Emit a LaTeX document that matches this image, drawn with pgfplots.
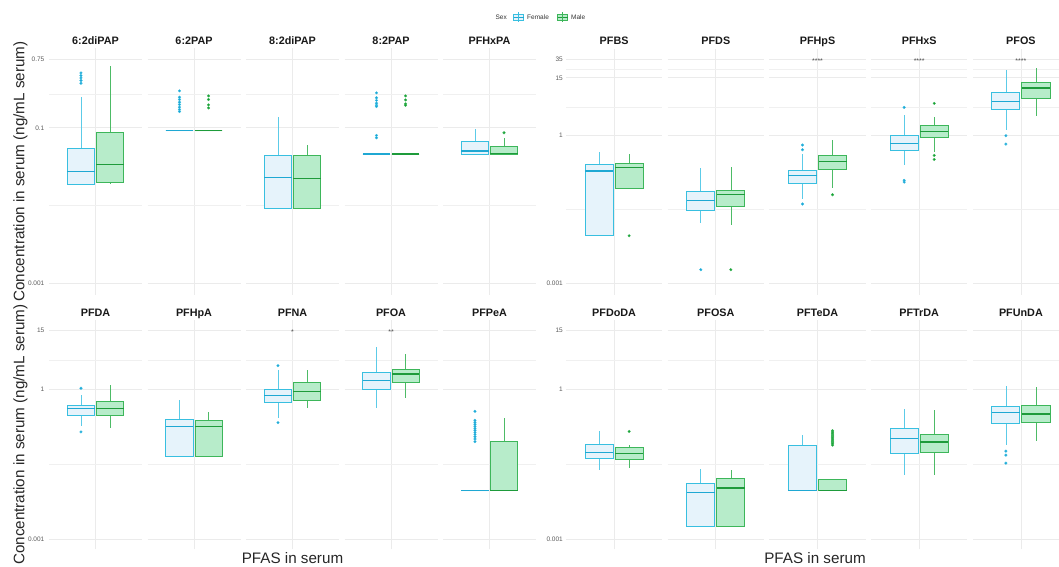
\documentclass[border=0pt]{standalone}
\usepackage{fontspec}
\setmainfont{Liberation Sans}
\usepackage{pgfplots}
\pgfplotsset{compat=1.18}
\usepgfplotslibrary{statistics}

\definecolor{fcol}{HTML}{38BFE0}
\definecolor{fcolw}{HTML}{5CCBE8}
\definecolor{ffill}{HTML}{E6F3FB}
\definecolor{fmed}{HTML}{1FA8D3}
\definecolor{fout}{HTML}{1C9ED6}
\definecolor{mcol}{HTML}{3DB65A}
\definecolor{mcolw}{HTML}{4DBB66}
\definecolor{mfill}{HTML}{B7ECCA}
\definecolor{mmed}{HTML}{1E9B3B}
\definecolor{mout}{HTML}{119B2C}
\definecolor{gridc}{HTML}{EBEBEB}
\definecolor{ticklab}{HTML}{5A5A5A}

\pgfplotsset{
  fstyle/.style={draw=fcol, mark=*, mark size=1.3pt, mark options={draw=none, fill=fout, solid},
    boxplot/draw direction=y,
    boxplot/every box/.style={draw=fcol, fill=ffill, line width=0.9pt},
    boxplot/every median/.style={draw=fmed, line width=1.3pt},
    boxplot/every whisker/.style={draw=fcolw, line width=0.65pt}},
  mstyle/.style={draw=mcol, mark=*, mark size=1.3pt, mark options={draw=none, fill=mout, solid},
    boxplot/draw direction=y,
    boxplot/every box/.style={draw=mcol, fill=mfill, line width=0.9pt},
    boxplot/every median/.style={draw=mmed, line width=1.3pt},
    boxplot/every whisker/.style={draw=mcolw, line width=0.65pt}},
  facet/.style={scale only axis, anchor=south west, xmin=0.4, xmax=1.6,
    axis line style={draw=none}, major tick length=0pt, minor tick length=0pt,
    xtick={1}, xticklabels={}, grid=both,
    major grid style={draw=gridc, line width=0.7pt},
    minor grid style={draw=gridc!75!white, line width=0.45pt},
    title style={font=\bfseries\fontsize{10.8}{12}\selectfont, text=black!90, at={(0.5,1)}, anchor=base, yshift=-2.2pt, inner sep=0pt},
    yticklabel style={font=\fontsize{6.5}{7}\selectfont, text=ticklab, inner sep=0pt, xshift=-4.5pt},
    yticklabels={}, clip=false},
  rowtl/.style={facet, width=93pt, height=246.1pt, ymin=-3.1438, ymax=0.0189,
    ytick={-3,-1,-0.12494}, minor ytick={-2,-0.56247}},
  rowtr/.style={facet, width=96.2pt, height=246.1pt, ymin=-3.2272, ymax=1.7713,
    ytick={-3,0,1.17609,1.54407}, minor ytick={-1.5,0.58805,1.36008}},
  rowbl/.style={facet, width=93pt, height=229.2pt, ymin=-3.2088, ymax=1.3849,
    ytick={-3,0,1.17609}, minor ytick={-1.5,0.58805}},
  rowbr/.style={facet, width=96.2pt, height=229.2pt, ymin=-3.2088, ymax=1.3849,
    ytick={-3,0,1.17609}, minor ytick={-1.5,0.58805}},
}
\tikzset{sigstar/.style={font=\fontsize{7}{8}\selectfont, text=black!70, yshift=-1.5pt}}

% box on a log10 scale: values are given as plain concentrations (ng/mL)
\newcommand{\BX}[8]{%
  \pgfmathsetmacro\vA{log10(#3)}\pgfmathsetmacro\vB{log10(#4)}%
  \pgfmathsetmacro\vC{log10(#5)}\pgfmathsetmacro\vD{log10(#6)}%
  \pgfmathsetmacro\vE{log10(#7)}%
  \edef\doplot{\noexpand\addplot[#1, boxplot prepared={lower whisker=\vA, lower quartile=\vB, median=\vC, upper quartile=\vD, upper whisker=\vE, draw position=#2, box extend=0.35, whisker extend=0, draw direction=y}]}%
  \ifx\relax#8\relax
    \doplot coordinates {};%
  \else
    \doplot table[row sep=\\, y expr={log10(\thisrowno{0})}]{y\\#8};%
  \fi}
\newcommand{\BF}[6]{\BX{fstyle}{0.8125}{#1}{#2}{#3}{#4}{#5}{#6}}
\newcommand{\BM}[6]{\BX{mstyle}{1.1875}{#1}{#2}{#3}{#4}{#5}{#6}}

\begin{document}
\begin{tikzpicture}
\path[use as bounding box] (0,0) rectangle (1059pt,566pt);

% ---------- Top-left ----------
\begin{axis}[rowtl, at={(49pt,271.4pt)}, title={6:2diPAP}, yticklabels={0.001,0.1,0.75}]
\BF{0.0182}{0.0182}{0.0275}{0.0538}{0.249}{0.507\\0.469\\0.437\\0.405\\0.374\\}
\BM{0.0186}{0.0197}{0.0332}{0.088}{0.624}{}
\end{axis}
\begin{axis}[rowtl, at={(147.5pt,271.4pt)}, title={6:2PAP}]
\BF{0.0916}{0.0916}{0.0916}{0.0916}{0.0916}{0.298\\0.247\\0.231\\0.213\\0.199\\0.184\\0.172\\0.162\\}
\BM{0.0916}{0.0916}{0.0916}{0.0916}{0.0916}{0.257\\0.231\\0.197\\0.180\\}
\end{axis}
\begin{axis}[rowtl, at={(246pt,271.4pt)}, title={8:2diPAP}]
\BF{0.00917}{0.00917}{0.0229}{0.0438}{0.1355}{}
\BM{0.00917}{0.00917}{0.0222}{0.0442}{0.0605}{}
\end{axis}
\begin{axis}[rowtl, at={(344.5pt,271.4pt)}, title={8:2PAP}]
\BF{0.0459}{0.0459}{0.0459}{0.0459}{0.0459}{0.281\\0.243\\0.225\\0.207\\0.195\\0.188\\0.0798\\0.0744\\}
\BM{0.0459}{0.0459}{0.0459}{0.0459}{0.0459}{0.257\\0.228\\0.203\\0.195\\}
\end{axis}
\begin{axis}[rowtl, at={(443pt,271.4pt)}, title={PFHxPA}]
\BF{0.0455}{0.0455}{0.0502}{0.0662}{0.0962}{}
\BM{0.0459}{0.0459}{0.0462}{0.057}{0.0723}{0.0863\\}
\end{axis}

% ---------- Top-right ----------
\begin{axis}[rowtr, at={(566pt,271.4pt)}, title={PFBS}, yticklabels={0.001,1,15,35}, yticklabel style={xshift=1.5pt}]
\BF{0.00931}{0.00931}{0.191}{0.262}{0.466}{}
\BM{0.0826}{0.0826}{0.227}{0.27}{0.424}{0.0093\\}
\end{axis}
\begin{axis}[rowtr, at={(667.7pt,271.4pt)}, title={PFDS}]
\BF{0.0163}{0.030}{0.0479}{0.074}{0.217}{0.0019\\}
\BM{0.0156}{0.0367}{0.0634}{0.0776}{0.227}{0.0019\\}
\end{axis}
\begin{axis}[rowtr, at={(769.4pt,271.4pt)}, title={PFHpS}]
\BF{0.0517}{0.1076}{0.154}{0.198}{0.418}{0.646\\0.52\\0.041\\}
\BM{0.0865}{0.204}{0.301}{0.392}{0.83}{0.0633\\}
\node[sigstar] at (axis cs:1,1.54407) {****};
\end{axis}
\begin{axis}[rowtr, at={(871.1pt,271.4pt)}, title={PFHxS}]
\BF{0.25}{0.504}{0.688}{1.0}{2.67}{3.76\\0.124\\0.1145\\}
\BM{0.473}{0.925}{1.21}{1.62}{2.39}{4.54\\0.398\\0.33\\}
\node[sigstar] at (axis cs:1,1.54407) {****};
\end{axis}
\begin{axis}[rowtr, at={(972.8pt,271.4pt)}, title={PFOS}]
\BF{1.32}{3.48}{4.9}{7.59}{21.9}{1.0\\0.677\\}
\BM{2.47}{5.73}{9.29}{12.1}{24.0}{}
\node[sigstar] at (axis cs:1,1.54407) {****};
\end{axis}

% ---------- Bottom-left ----------
\begin{axis}[rowbl, at={(49pt,16.6pt)}, title={PFDA}, yticklabels={0.001,1,15}]
\BF{0.184}{0.301}{0.416}{0.478}{0.77}{1.05\\0.14\\}
\BM{0.163}{0.301}{0.416}{0.566}{1.2}{}
\end{axis}
\begin{axis}[rowbl, at={(147.5pt,16.6pt)}, title={PFHpA}]
\BF{0.0448}{0.0448}{0.181}{0.25}{0.611}{}
\BM{0.0448}{0.0448}{0.179}{0.239}{0.351}{}
\end{axis}
\begin{axis}[rowbl, at={(246pt,16.6pt)}, title={PFNA}]
\BF{0.262}{0.541}{0.758}{1.0}{2.44}{2.98\\0.215\\}
\BM{0.429}{0.611}{0.898}{1.40}{2.44}{}
\node[sigstar] at (axis cs:1,1.17609) {*};
\end{axis}
\begin{axis}[rowbl, at={(344.5pt,16.6pt)}, title={PFOA}]
\BF{0.429}{1.0}{1.49}{2.19}{6.94}{}
\BM{0.67}{1.36}{2.03}{2.48}{5.03}{}
\node[sigstar] at (axis cs:1,1.17609) {**};
\end{axis}
\begin{axis}[rowbl, at={(443pt,16.6pt)}, title={PFPeA}]
\BF{0.00918}{0.00918}{0.00918}{0.00918}{0.00918}{0.362\\0.239\\0.218\\0.199\\0.181\\0.165\\0.151\\0.137\\0.125\\0.112\\0.101\\0.0893\\}
\BM{0.00918}{0.00918}{0.00918}{0.0908}{0.267}{}
\end{axis}

% ---------- Bottom-right ----------
\begin{axis}[rowbr, at={(566pt,16.6pt)}, title={PFDoDA}, yticklabels={0.001,1,15}, yticklabel style={xshift=1.5pt}]
\BF{0.0236}{0.0411}{0.0534}{0.076}{0.143}{}
\BM{0.0259}{0.0398}{0.0518}{0.0662}{0.076}{0.143\\}
\end{axis}
\begin{axis}[rowbr, at={(667.7pt,16.6pt)}, title={PFOSA}]
\BF{0.00177}{0.00177}{0.0084}{0.0131}{0.0255}{}
\BM{0.00177}{0.00177}{0.0104}{0.0163}{0.0239}{}
\end{axis}
\begin{axis}[rowbr, at={(769.4pt,16.6pt)}, title={PFTeDA}]
\BF{0.0092}{0.0092}{0.0092}{0.0727}{0.119}{}
\BM{0.0092}{0.0092}{0.0092}{0.0155}{0.0155}{0.148\\0.140\\0.133\\0.126\\0.119\\0.113\\0.107\\0.101\\0.096\\0.091\\0.0861\\0.081\\0.076\\}
\end{axis}
\begin{axis}[rowbr, at={(871.1pt,16.6pt)}, title={PFTrDA}]
\BF{0.0187}{0.0526}{0.102}{0.167}{0.403}{}
\BM{0.0187}{0.055}{0.0875}{0.123}{0.378}{}
\end{axis}
\begin{axis}[rowbr, at={(972.8pt,16.6pt)}, title={PFUnDA}]
\BF{0.075}{0.204}{0.34}{0.449}{1.17}{0.0577\\0.048\\0.0331\\}
\BM{0.0902}{0.214}{0.319}{0.47}{1.13}{}
\end{axis}

% ---------- Axis titles ----------
\node[rotate=90, anchor=base, font=\fontsize{15.2}{17}\selectfont, text=black!85] at (24.5pt,394.5pt) {Concentration in serum (ng/mL serum)};
\node[rotate=90, anchor=base, font=\fontsize{15.2}{17}\selectfont, text=black!85] at (24.5pt,131.3pt) {Concentration in serum (ng/mL serum)};
\node[anchor=base, font=\fontsize{15.2}{17}\selectfont, text=black!85] at (292.5pt,2.7pt) {PFAS in serum};
\node[anchor=base, font=\fontsize{15.2}{17}\selectfont, text=black!85] at (815pt,2.7pt) {PFAS in serum};

% ---------- Legend ----------
\node[anchor=east, font=\fontsize{6.5}{7}\selectfont, text=black!80, inner sep=0pt] at (507pt,549pt) {Sex};
\begin{scope}[shift={(518.5pt,549pt)}]
\draw[fcol, line width=0.6pt] (0,-5pt)--(0,5pt);
\filldraw[draw=fcol, fill=ffill, line width=0.6pt] (-5pt,-3pt) rectangle (5pt,3pt);
\draw[fmed, line width=0.8pt] (-5pt,0)--(5pt,0);
\draw[fcol, line width=0.6pt] (0,-3pt)--(0,3pt);
\end{scope}
\node[anchor=west, font=\fontsize{6.5}{7}\selectfont, text=black!80, inner sep=0pt] at (527pt,549pt) {Female};
\begin{scope}[shift={(562.5pt,549pt)}]
\draw[mcol, line width=0.6pt] (0,-5pt)--(0,5pt);
\filldraw[draw=mcol, fill=mfill, line width=0.6pt] (-5pt,-3pt) rectangle (5pt,3pt);
\draw[mmed, line width=0.8pt] (-5pt,0)--(5pt,0);
\draw[mcol, line width=0.6pt] (0,-3pt)--(0,3pt);
\end{scope}
\node[anchor=west, font=\fontsize{6.5}{7}\selectfont, text=black!80, inner sep=0pt] at (571pt,549pt) {Male};
\end{tikzpicture}
\end{document}
